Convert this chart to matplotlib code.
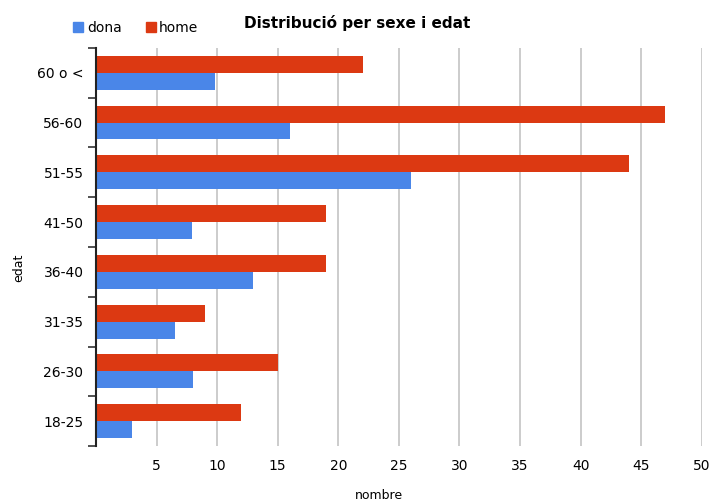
import numpy as np
import matplotlib
matplotlib.use("Agg")
import matplotlib.pyplot as plt
from matplotlib.lines import Line2D

# franges d'edat (de baix a dalt)
edats = ["18-25", "26-30", "31-35", "36-40", "41-50", "51-55", "56-60", "60 o <"]
dona = [3, 8, 6.55, 13, 7.9, 26, 16, 9.8]
home = [12, 15, 9, 19, 19, 44, 47, 22]
xticks = [5, 10, 15, 20, 25, 30, 35, 40, 45, 50]

BLUE = "#4a86e8"
RED = "#dc3912"

fig = plt.figure(figsize=(7.11, 5.04), dpi=100)
ax = fig.add_axes([0.135, 0.115, 0.852, 0.79])

y = np.arange(len(edats))
h = 0.34
ax.barh(y + h / 2, home, height=h, color=RED, zorder=3)
ax.barh(y - h / 2, dona, height=h, color=BLUE, zorder=3)

ax.set_xlim(0, 50)
ax.set_ylim(-0.5, len(edats) - 0.5)
ax.set_xticks(xticks)
ax.set_xticklabels([str(v) for v in xticks], fontsize=10)
ax.tick_params(axis="x", length=0, pad=9)
ax.grid(axis="x", color="#cccccc", linewidth=1.4, zorder=0)

ax.set_yticks(y)
ax.set_yticklabels(edats, fontsize=10)
ax.set_yticks(np.arange(-0.5, len(edats)), minor=True)
ax.tick_params(axis="y", which="major", length=0, pad=9)
ax.tick_params(axis="y", which="minor", length=6, width=1.2, color="#333333")

for s in ["top", "right", "bottom"]:
    ax.spines[s].set_visible(False)
ax.spines["left"].set_color("#222222")
ax.spines["left"].set_linewidth(1.5)
ax.spines["left"].set_zorder(4)

# etiquetes dels eixos
fig.text(0.533, 0.017, "nombre", ha="center", va="center", fontsize=9)
fig.text(0.026, 0.468, "edat", ha="center", va="center", fontsize=9, rotation=90)

fig.text(0.502, 0.955, "Distribució per sexe i edat", ha="center", va="center",
         fontsize=11, fontweight="bold")

handles = [Line2D([], [], marker="s", linestyle="none", markersize=7, color=BLUE),
           Line2D([], [], marker="s", linestyle="none", markersize=7, color=RED)]
fig.legend(handles, ["dona", "home"], loc="center left", bbox_to_anchor=(0.083, 0.944),
           ncol=2, frameon=False, fontsize=10, handletextpad=0.1, columnspacing=1.6,
           handlelength=1.0)

fig.savefig("out.png", dpi=100)
